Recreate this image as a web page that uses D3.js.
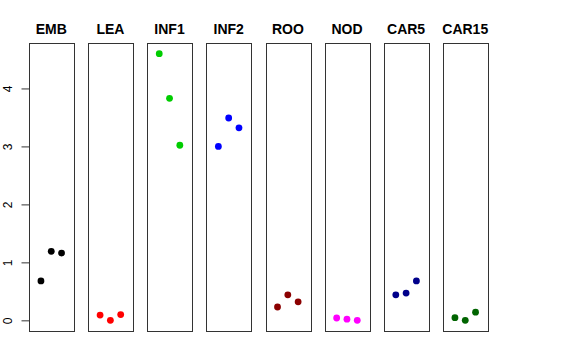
<!DOCTYPE html>
<html lang="en">
<head>
  <meta charset="UTF-8">
  <title>Strip panels</title>
  <script src="https://d3js.org/d3.v7.min.js"></script>
  <style>
    body { margin: 0; background: white; }
    svg { display: block; font-family: 'Liberation Sans', Arial, sans-serif; }
  </style>
</head>
<body>
  <div id="chart"></div>
  <script>
    const categories = ["EMB", "LEA", "INF1", "INF2", "ROO", "NOD", "CAR5", "CAR15"];
    const colors = ["#000000", "#FF0000", "#00CD00", "#0000FF", "#8B0000", "#FF00FF", "#00008B", "#006400"];
    const EMB = [0.68, 1.19, 1.16];
    const LEA = [0.09, 0.00, 0.10];
    const INF1 = [4.60, 3.83, 3.02];
    const INF2 = [3.00, 3.49, 3.32];
    const ROO = [0.23, 0.44, 0.32];
    const NOD = [0.04, 0.02, 0.00];
    const CAR5 = [0.44, 0.47, 0.68];
    const CAR15 = [0.045, 0.00, 0.14];
    const series = [EMB, LEA, INF1, INF2, ROO, NOD, CAR5, CAR15];
    const yTicks = [0, 1, 2, 3, 4];

    const width = 576, height = 360;
    const svg = d3.select("#chart").append("svg").attr("width", width).attr("height", height);

    const plotTop = 43, plotBottom = 331;
    const yMax = 4.6, pad = yMax * 0.04;
    const y = d3.scaleLinear().domain([-pad, yMax + pad]).range([plotBottom, plotTop]);

    const panel = d3.scaleBand().domain(categories).range([29, 487.5]).paddingInner(0.2475).paddingOuter(0);
    const bw = panel.bandwidth();
    const jitter = d3.scalePoint().domain([0, 1, 2]).range([-10.3, 10.3]);

    categories.forEach((cat, i) => {
      const x0 = panel(cat);
      const g = svg.append("g");
      g.append("rect")
        .attr("x", Math.round(x0) + 0.5)
        .attr("y", plotTop + 0.5)
        .attr("width", Math.round(bw))
        .attr("height", plotBottom - plotTop)
        .attr("fill", "none")
        .attr("stroke", "#333")
        .attr("stroke-width", 1);
      g.append("text")
        .attr("x", x0 + bw / 2)
        .attr("y", 34)
        .attr("text-anchor", "middle")
        .attr("font-weight", "bold")
        .attr("font-size", 14)
        .text(cat);
      g.selectAll("circle")
        .data(series[i])
        .enter().append("circle")
        .attr("cx", (d, j) => x0 + bw / 2 + jitter(j))
        .attr("cy", d => y(d))
        .attr("r", 3.4)
        .attr("fill", colors[i]);
    });

    const axis = svg.append("g")
      .attr("transform", `translate(${Math.round(panel(categories[0])) + 0.5},0)`)
      .call(d3.axisLeft(y).tickValues(yTicks).tickSize(8).tickFormat(d3.format("d")));
    axis.select(".domain").remove();
    axis.append("line")
      .attr("y1", y(yTicks[0])).attr("y2", y(yTicks[yTicks.length - 1]))
      .attr("stroke", "#333");
    axis.selectAll(".tick line").attr("stroke", "#333");
    axis.selectAll(".tick text")
      .attr("font-size", 12)
      .attr("font-family", "'Liberation Sans', Arial, sans-serif")
      .attr("fill", "#000")
      .attr("text-anchor", "middle")
      .attr("x", 0)
      .attr("dy", 0)
      .attr("transform", "translate(-21.5,0) rotate(-90)")
      .attr("dominant-baseline", "central");
  </script>
</body>
</html>
